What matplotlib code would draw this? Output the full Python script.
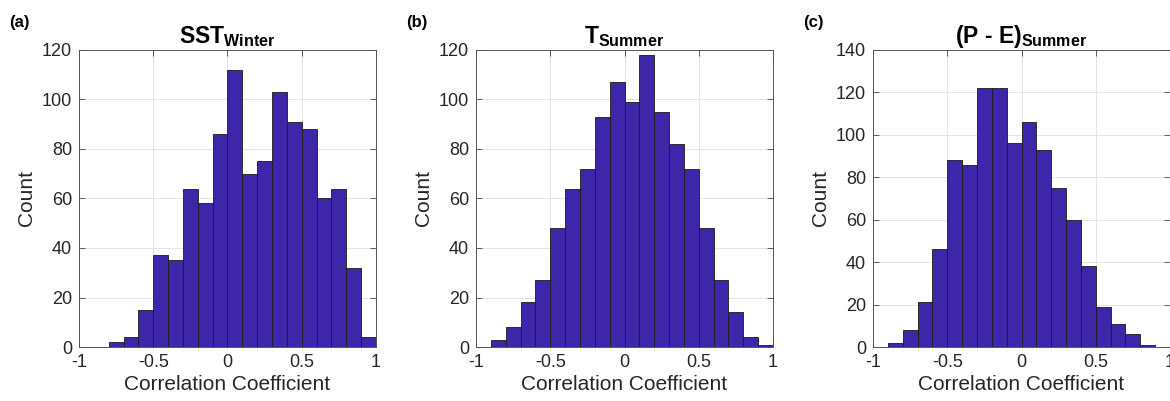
import numpy as np
import matplotlib.pyplot as plt

# bin edges (left side) and counts
edges_a = [-0.8, -0.7, -0.6, -0.5, -0.4, -0.3, -0.2, -0.1, 0.0, 0.1,
           0.2, 0.3, 0.4, 0.5, 0.6, 0.7, 0.8, 0.9]
counts_a = [2, 4, 15, 37, 35, 64, 58, 86, 112, 70, 75, 103, 91, 88, 60, 64, 32, 4]

edges_b = [-0.9, -0.8, -0.7, -0.6, -0.5, -0.4, -0.3, -0.2, -0.1, 0.0,
           0.1, 0.2, 0.3, 0.4, 0.5, 0.6, 0.7, 0.8, 0.9]
counts_b = [3, 8, 18, 27, 48, 64, 72, 93, 107, 99, 118, 95, 82, 72, 48, 27, 14, 4, 1]

edges_c = [-0.9, -0.8, -0.7, -0.6, -0.5, -0.4, -0.3, -0.2, -0.1, 0.0,
           0.1, 0.2, 0.3, 0.4, 0.5, 0.6, 0.7, 0.8]
counts_c = [2, 8, 21, 46, 88, 86, 122, 122, 96, 106, 93, 75, 60, 38, 19, 11, 6, 1]

titles = [r'$\mathbf{SST_{Winter}}$', r'$\mathbf{T_{Summer}}$',
          '$\\mathbf{(P\\ \u2010\\ E)_{Summer}}$']
panel_labels = ['(a)', '(b)', '(c)']
y_max = [120, 120, 140]
x_ticks = [-1, -0.5, 0, 0.5, 1]
x_ticklabels = ['-1', '-0.5', '0', '0.5', '1']

plt.rcParams['font.family'] = ['Liberation Sans', 'DejaVu Sans']
plt.rcParams['mathtext.fontset'] = 'custom'
plt.rcParams['mathtext.rm'] = 'Liberation Sans'
plt.rcParams['mathtext.bf'] = 'Liberation Sans:bold'
plt.rcParams['mathtext.it'] = 'Liberation Sans:italic'

bar_color = '#3E26A8'
text_color = '#262626'

fig = plt.figure(figsize=(11.7, 4.01), dpi=100)

lefts = [79, 476, 873]
data = [(edges_a, counts_a), (edges_b, counts_b), (edges_c, counts_c)]

for i, (edges, counts) in enumerate(data):
    ax = fig.add_axes([lefts[i] / 1170, 1 - 347 / 401, 297 / 1170, 297 / 401])
    ax.bar(edges, counts, width=0.1, align='edge', color=bar_color,
           edgecolor='#1a1a1a', linewidth=0.6, zorder=2)
    ax.set_xlim(-1, 1)
    ax.set_ylim(0, y_max[i])
    ax.set_xticks(x_ticks)
    ax.set_xticklabels(x_ticklabels)
    ax.set_yticks(np.arange(0, y_max[i] + 1, 20))
    ax.grid(True, color='#e3e3e3', linewidth=0.7, zorder=0)
    ax.set_axisbelow(True)
    ax.tick_params(direction='in', top=True, right=True, length=4,
                   width=0.6, color='#444444', labelsize=13,
                   labelcolor=text_color, pad=5)
    for s in ax.spines.values():
        s.set_color('#555555')
        s.set_linewidth(0.7)
    ax.set_xlabel('Correlation Coefficient', fontsize=15, color=text_color, labelpad=3)
    ax.set_ylabel('Count', fontsize=15, color=text_color, labelpad=4)
    ax.set_title(titles[i], fontsize=16.5, color='black', pad=5)
    fig.text((lefts[i] - 70) / 1170, 1 - 22 / 401, panel_labels[i],
             fontsize=12, fontweight='bold', color='black', va='center')

fig.savefig('out.png', dpi=100)
